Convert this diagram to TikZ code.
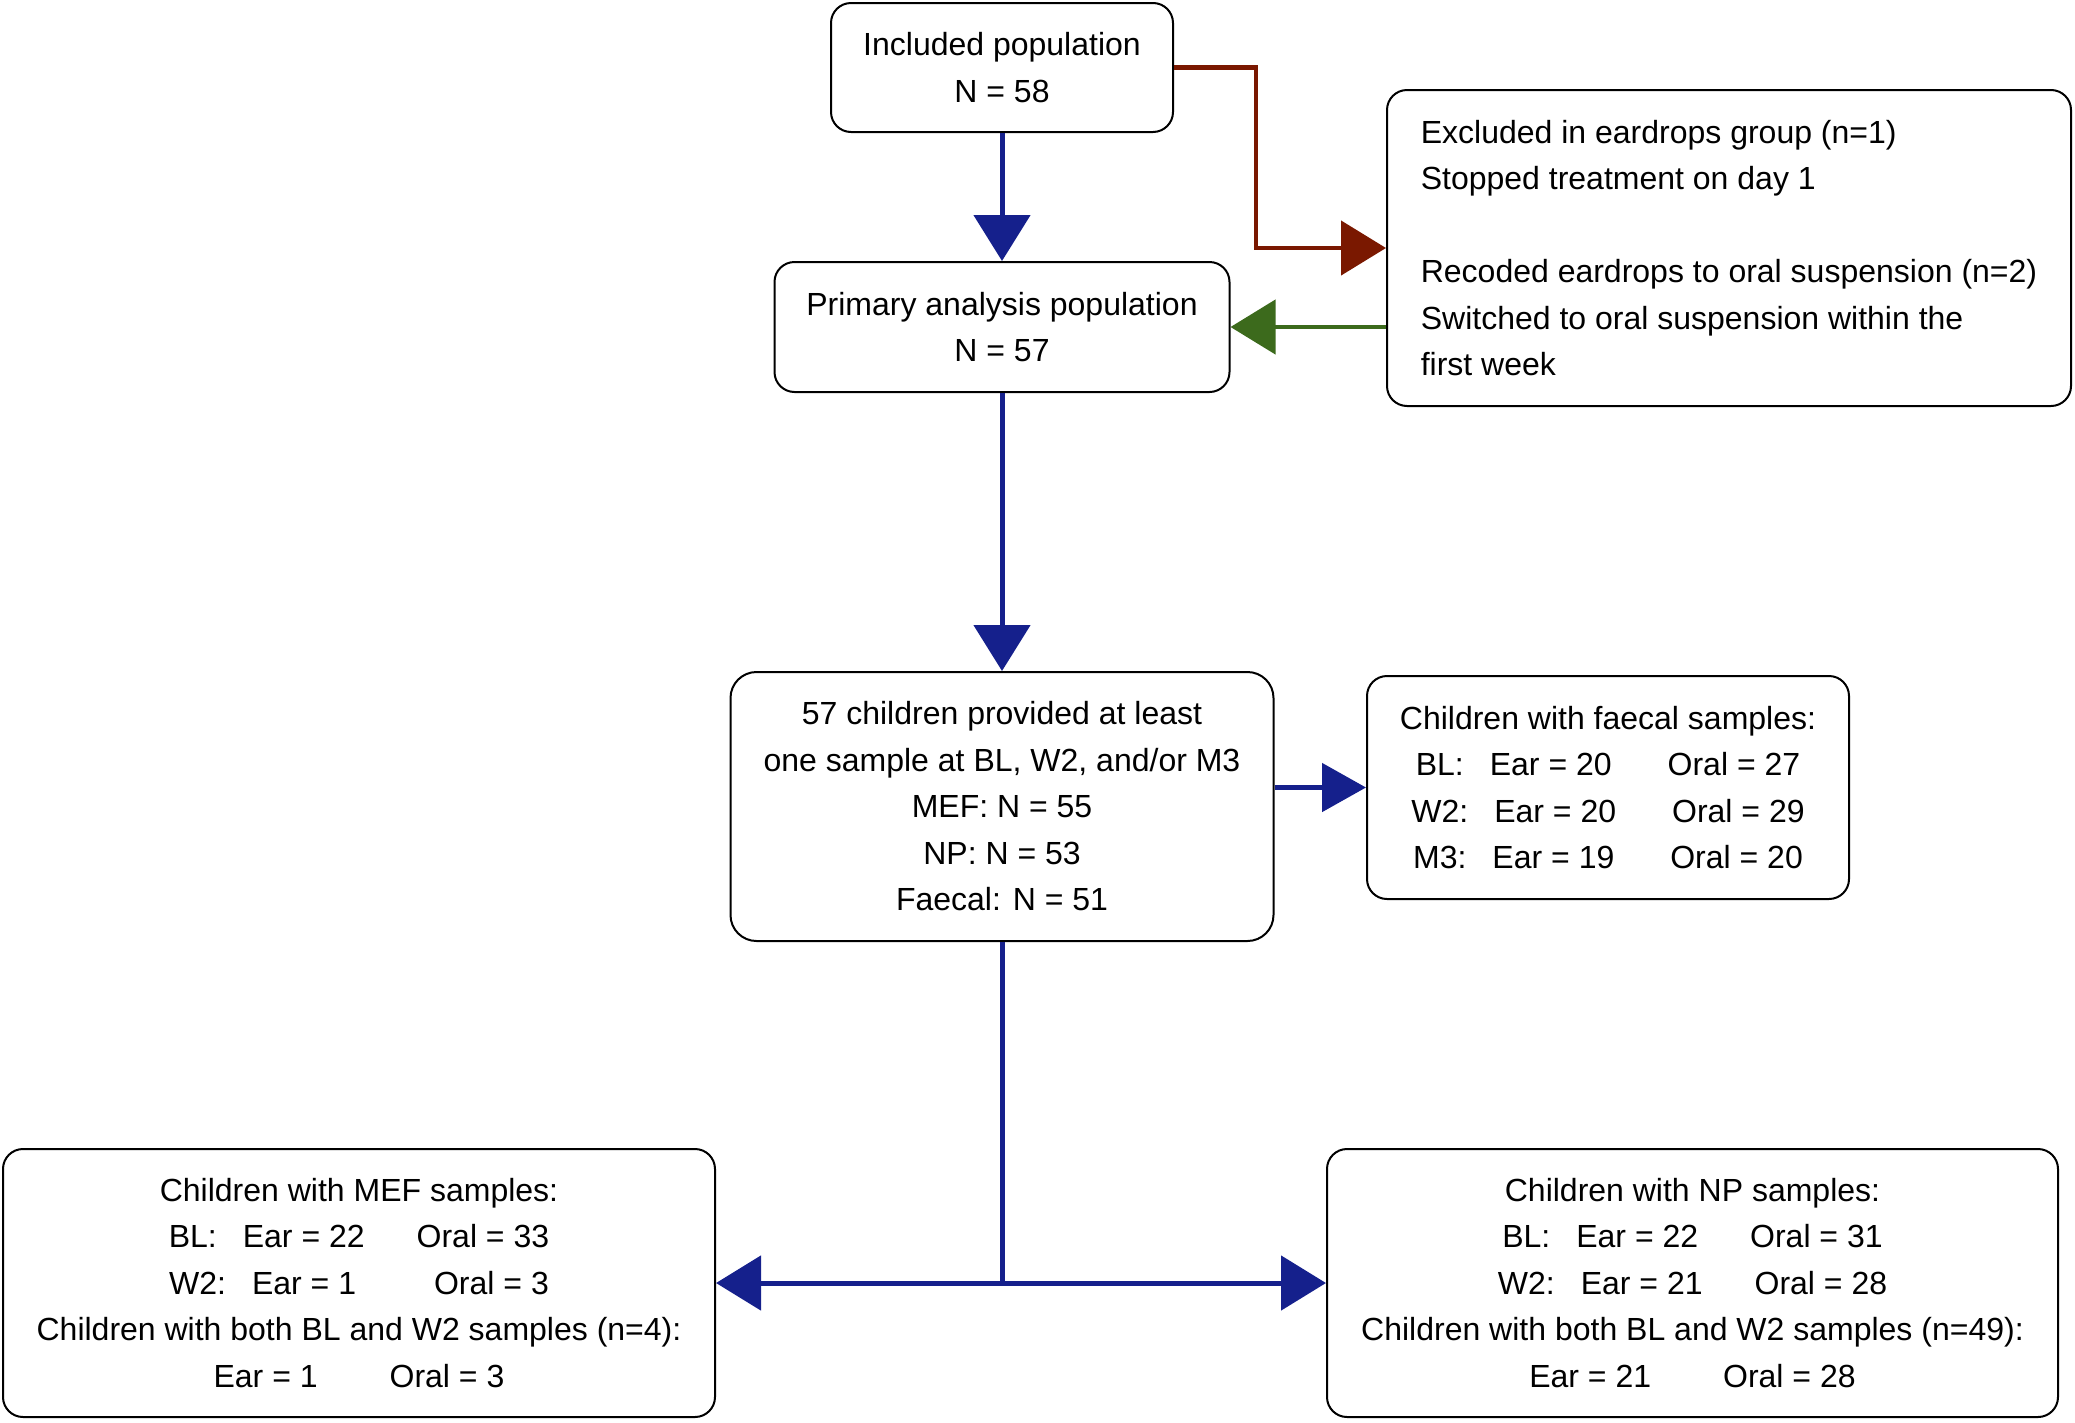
\documentclass[tikz,border=0pt]{standalone}
\usepackage{fontspec}
\setmainfont{Liberation Sans}
\usetikzlibrary{arrows.meta}
\definecolor{flowblue}{HTML}{15208C}
\definecolor{flowred}{HTML}{7A1800}
\definecolor{flowgreen}{HTML}{3C6A1C}
\newcommand{\gp}[1]{\hspace*{#1pt}}
\begin{document}
\begin{tikzpicture}[x=1pt,y=-1pt,
  box/.style={draw=black, line width=2pt, rounded corners=20pt, fill=white,
    align=center, inner sep=0pt, font=\fontsize{32}{46.5}\selectfont},
  conn/.style={line width=5pt, -{Triangle[length=45pt,width=54pt]}},
  plain/.style={line width=5pt}
]
\useasboundingbox (0,0) rectangle (2075,1422);

\node[box, minimum width=342pt, minimum height=129pt] (inc) at (1002,67.5)
  {Included population\\N = 58};
\node[box, minimum width=455pt, minimum height=130pt] (prim) at (1002,327)
  {Primary analysis population\\N = 57};
\node[box, minimum width=684pt, minimum height=316pt, align=left] (exc) at (1729,248)
  {Excluded in eardrops group (n=1)\\Stopped treatment on day 1\\[46.5pt]Recoded eardrops to oral suspension (n=2)\\Switched to oral suspension within the\\first week};
\node[box, minimum width=543pt, minimum height=269pt, rounded corners=26pt] (all) at (1002,806.5)
  {57 children provided at least\\one sample at BL, W2, and/or M3\\MEF: N = 55\\NP: N = 53\\Faecal: N = 51};
\node[box, minimum width=482pt, minimum height=223pt] (fae) at (1608,787.5)
  {Children with faecal samples:\\BL:\gp{26}Ear = 20\gp{56}Oral = 27\\W2:\gp{26}Ear = 20\gp{56}Oral = 29\\M3:\gp{26}Ear = 19\gp{56}Oral = 20};
\node[box, minimum width=712pt, minimum height=268pt] (mef) at (359,1283)
  {Children with MEF samples:\\BL:\gp{26}Ear = 22\gp{52}Oral = 33\\W2:\gp{26}Ear = 1\gp{78}Oral = 3\\Children with both BL and W2 samples (n=4):\\Ear = 1\gp{72}Oral = 3};
\node[box, minimum width=731pt, minimum height=268pt] (np) at (1692.5,1283)
  {Children with NP samples:\\BL:\gp{26}Ear = 22\gp{52}Oral = 31\\W2:\gp{26}Ear = 21\gp{52}Oral = 28\\Children with both BL and W2 samples (n=49):\\Ear = 21\gp{72}Oral = 28};

\coordinate (split) at (all.south |- mef.east);

\draw[conn, flowblue, -{Triangle[length=46pt,width=56pt]}] (inc.south) -- (prim.north);
\draw[conn, flowblue, -{Triangle[length=46pt,width=56pt]}] (prim.south) -- (all.north);
\draw[conn, flowblue, -{Triangle[length=44pt,width=48pt]}] (all.east |- fae.west) -- (fae.west);
\draw[plain, flowblue] (all.south) -- (split);
\draw[conn, flowblue] (split) -- (mef.east);
\draw[conn, flowblue] (split) -- (np.west);
\draw[conn, flowred, line width=4.5pt] (inc.east) -- ++(82,0) |- (exc.west);
\draw[conn, flowgreen, line width=4.5pt] (exc.west |- prim.east) -- (prim.east);
\end{tikzpicture}
\end{document}
